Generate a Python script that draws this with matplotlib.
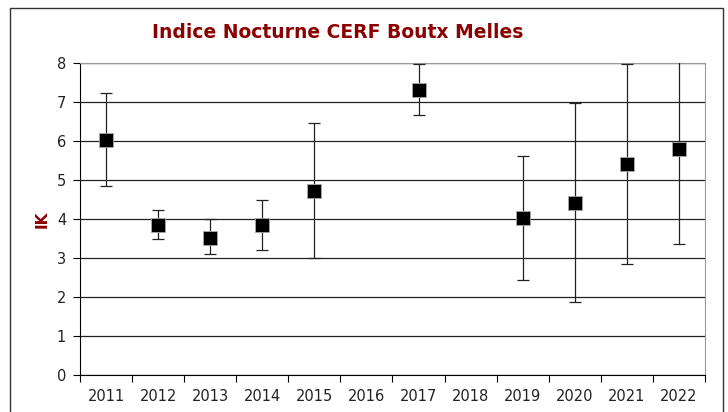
import numpy as np
import matplotlib.pyplot as plt
from matplotlib.patches import Rectangle

# data
years = ["2011", "2012", "2013", "2014", "2015", "2016",
         "2017", "2018", "2019", "2020", "2021", "2022"]
ik = [6.03, 3.85, 3.52, 3.85, 4.72, np.nan, 7.32, np.nan, 4.03, 4.41, 5.42, 5.79]
ik_low = [4.85, 3.49, 3.10, 3.20, 3.00, np.nan, 6.66, np.nan, 2.44, 1.88, 2.85, 3.36]
ik_high = [7.23, 4.23, 4.00, 4.49, 6.46, np.nan, 7.98, np.nan, 5.61, 6.97, 7.98, 8.60]

DARK_RED = "#8b0000"

fig = plt.figure(figsize=(7.28, 4.12), dpi=100)
ax = fig.add_axes([80 / 728, 1 - 375 / 412, 625 / 728, 312 / 412])

x = np.arange(len(years))
y = np.array(ik)
lo = y - np.array(ik_low)
hi = np.array(ik_high) - y

ax.errorbar(x, y, yerr=[lo, hi], fmt="none", ecolor="#222222",
            elinewidth=0.9, capsize=4, capthick=0.9, zorder=3)
ax.plot(x, y, ls="none", marker="s", ms=10.5, mfc="black",
        mec="#aaaaaa", mew=0.6, zorder=4)

ax.set_xlim(-0.5, len(years) - 0.5)
ax.set_ylim(0, 8)
ax.set_yticks(range(0, 9))
ax.yaxis.grid(True, color="#222222", lw=0.9)
ax.set_axisbelow(True)

# ticks between categories, labels centred
ax.set_xticks(np.arange(-0.5, len(years), 1))
ax.set_xticklabels([])
ax.set_xticks(x, minor=True)
ax.set_xticklabels(years, minor=True)
ax.tick_params(axis="x", which="major", length=5, direction="out", color="black")
ax.tick_params(axis="x", which="minor", length=0, pad=10)
ax.tick_params(axis="y", length=5, direction="out", pad=5)
for lab in ax.get_xticklabels(minor=True) + ax.get_yticklabels():
    lab.set_fontsize(10.5)
    lab.set_color("#222222")

ax.spines["left"].set_color("black")
ax.spines["bottom"].set_color("black")
ax.spines["right"].set_color("#999999")
ax.spines["top"].set_color("#999999")

ax.set_ylabel("IK", color=DARK_RED, fontsize=11, fontweight="bold", labelpad=5)

fig.text(338 / 728, 1 - 33 / 412, "Indice Nocturne CERF Boutx Melles",
         ha="center", va="center", color=DARK_RED, fontsize=13.5,
         fontweight="bold")

# outer chart frame
fig.patches.append(Rectangle((10 / 728, -0.05), 713 / 728, 1 - 8 / 412 + 0.05,
                             transform=fig.transFigure, fill=False,
                             ec="#333333", lw=1))

fig.savefig("out.png", dpi=100)
